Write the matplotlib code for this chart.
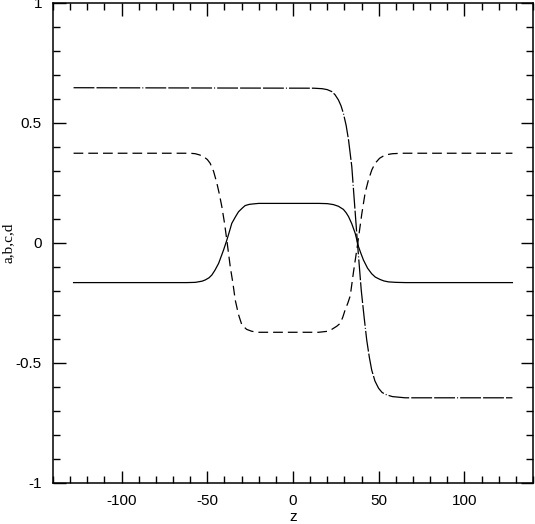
import matplotlib
matplotlib.use("Agg")
import matplotlib.pyplot as plt
from matplotlib.ticker import MultipleLocator

plt.rcParams['lines.scale_dashes'] = False

# values
z_a = [-128, -62, -57, -53, -51.2, -49, -47.3, -45.5, -43.4, -42, -40.5, -38.6, -37, -35.7,
       -33.5, -31.8, -29.5, -27.9, -25.5, -23, -20, -16,
       15, 20, 23.6, 26.5, 29.4, 31, 32.4, 34.3, 36.3, 38.2, 39.7, 41.1, 43.5, 45.9, 48,
       50.8, 53, 55.7, 60, 66, 128]
a = [-0.165, -0.165, -0.164, -0.159, -0.154, -0.145, -0.133, -0.113, -0.085, -0.058, -0.029,
     0.012, 0.05, 0.082, 0.11, 0.130, 0.146, 0.156, 0.161, 0.163, 0.165, 0.165,
     0.165, 0.164, 0.160, 0.153, 0.140, 0.126, 0.110, 0.080, 0.040, -0.015, -0.045, -0.071,
     -0.105, -0.128, -0.142, -0.152, -0.158, -0.162, -0.164, -0.165, -0.165]

z_b = [-128, -60, -57, -54.5, -52.2, -50, -48.3, -46.3, -44.4, -43, -41.5, -40, -38.6, -36.6,
       -35, -33.7, -31.8, -29.8, -27, -24, -20, -16,
       15, 20, 22.6, 25.5, 27.5, 29, 30.4, 32, 33.4, 35.3, 37.8, 40.1, 42.1, 44.0, 46,
       47.9, 50.5, 53.8, 58, 63.4, 128]
b = [0.374, 0.374, 0.372, 0.367, 0.36, 0.348, 0.332, 0.298, 0.249, 0.205, 0.151, 0.085, 0.012,
     -0.099, -0.17, -0.2375, -0.298, -0.342, -0.360, -0.368, -0.372, -0.372,
     -0.372, -0.368, -0.360, -0.347, -0.335, -0.310, -0.279, -0.25, -0.22, -0.12, 0.0, 0.12,
     0.21, 0.2625, 0.305, 0.332, 0.353, 0.367, 0.372, 0.374, 0.374]

z_c = [-128, 12, 17, 20, 22.6, 24.5, 26.5, 28, 29.4, 31, 32.4, 34.3, 35.3, 37.6, 39.8, 41.5,
       43.0, 44.5, 45.9, 47.8, 49.9, 52, 54.7, 58, 65.4, 128]
c = [0.647, 0.645, 0.643, 0.639, 0.631, 0.618, 0.596, 0.572, 0.54, 0.49, 0.429, 0.318, 0.221,
     0.0, -0.196, -0.31, -0.404, -0.475, -0.529, -0.575, -0.605, -0.623, -0.633, -0.640,
     -0.645, -0.645]

x_ticks = [-100, -50, 0, 50, 100]
x_ticklabels = ['-100', '-50', '0', '50', '100']
y_ticks = [-1, -0.5, 0, 0.5, 1]
y_ticklabels = ['-1', '-0.5', '0', '0.5', '1']

fig = plt.figure(figsize=(5.35, 5.24), dpi=100)
ax = fig.add_axes([53 / 535, 41 / 524, 480 / 535, 480 / 524])

ax.plot(z_a, a, color='black', lw=0.9, ls='-')
ax.plot(z_b, b, color='black', lw=0.9, dashes=(7, 3.6))
ax.plot(z_c, c, color='black', lw=0.9, dashes=(15, 1.5, 15, 1.5, 15, 1.5, 0.7, 1.5))

ax.set_xlim(-140, 140)
ax.set_ylim(-1, 1)
ax.set_xticks(x_ticks)
ax.set_xticklabels(x_ticklabels)
ax.set_yticks(y_ticks)
ax.set_yticklabels(y_ticklabels)
ax.xaxis.set_minor_locator(MultipleLocator(10))
ax.yaxis.set_minor_locator(MultipleLocator(0.1))

ax.tick_params(which='both', direction='in', top=True, right=True, width=1, color='black')
ax.tick_params(which='major', length=9, labelsize=11, pad=8)
ax.tick_params(which='minor', length=5)
for lab in ax.get_xticklabels() + ax.get_yticklabels():
    lab.set_family('Liberation Sans')
for sp in ax.spines.values():
    sp.set_linewidth(1.1)

ax.set_xlabel('z', family='Liberation Sans', fontsize=11)
ax.set_ylabel('a,b,c,d', family='Liberation Serif', fontsize=11)
ax.xaxis.set_label_coords(0.5, -0.07)
ax.yaxis.set_label_coords(-0.093, 0.5)
ax.xaxis.label.set_va('center')
ax.yaxis.label.set_va('center')

fig.savefig('out.png', dpi=100)
